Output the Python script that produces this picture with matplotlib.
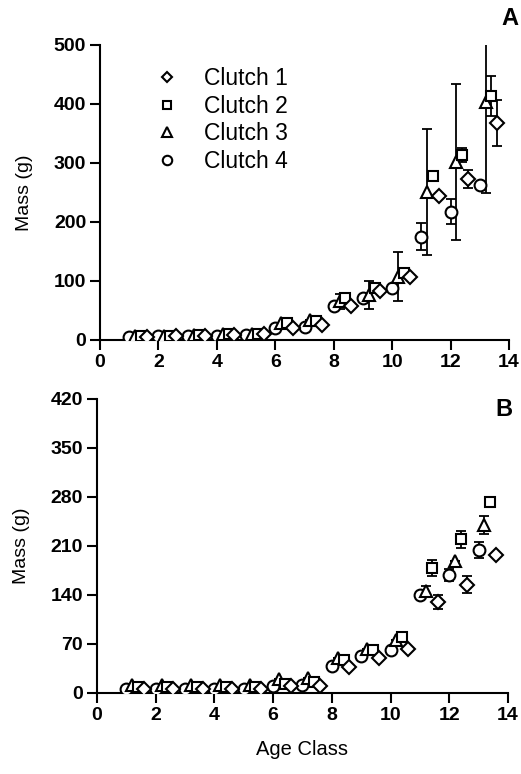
import matplotlib
matplotlib.use('Agg')
import matplotlib.pyplot as plt
import numpy as np

plt.rcParams['font.family'] = ['Liberation Sans', 'DejaVu Sans']

ages = np.arange(1, 14)
clutch_labels = ['Clutch 1', 'Clutch 2', 'Clutch 3', 'Clutch 4']
clutch_offsets = [0.6, 0.4, 0.2, 0.0]
clutch_markers = ['D', 's', '^', 'o']

# panel A: mass by age class (g)
mass_a_c1 = [5, 6, 7, 8, 9, 20, 25, 58, 82, 107, 244, 273, 368]
mass_a_c2 = [6, 7, 8, 9, 10, 28, 32, 71, 88, 113, 277, 314, 414]
mass_a_c3 = [6, 7, 8, 9, 10, 28, 34, 65, 76, 107, 251, 302, 404]
mass_a_c4 = [5, 6, 6, 7, 8, 20, 22, 58, 71, 88, 175, 217, 263]
err_a_c1 = [0, 0, 0, 0, 0, 0, 0, 0, 0, 0, 0, 15, 39]
err_a_c2 = [0, 0, 0, 0, 0, 0, 0, 0, 0, 0, 0, 12, 34]
err_a_c3 = [0, 0, 0, 0, 0, 0, 0, 12, 24, 41, 107, 132, 155]
err_a_c4 = [0, 0, 0, 0, 0, 0, 0, 0, 0, 0, 23, 21, 0]

# panel B
mass_b_c1 = [6, 6, 6, 6, 6, 9, 10, 37, 50, 63, 129, 154, 197]
mass_b_c2 = [8, 8, 8, 8, 8, 12, 16, 47, 61, 80, 178, 219, 272]
mass_b_c3 = [11, 11, 11, 11, 11, 19, 21, 50, 63, 76, 145, 188, 240]
mass_b_c4 = [6, 6, 6, 6, 6, 10, 11, 38, 52, 61, 140, 168, 204]
err_b_c1 = [0, 0, 0, 0, 0, 0, 0, 0, 0, 0, 10, 12, 0]
err_b_c2 = [0, 0, 0, 0, 0, 0, 0, 0, 0, 0, 11, 12, 0]
err_b_c3 = [0, 0, 0, 0, 0, 0, 0, 0, 0, 0, 7, 0, 13]
err_b_c4 = [0, 0, 0, 0, 0, 0, 0, 0, 0, 0, 0, 9, 11]

mass_a = [mass_a_c1, mass_a_c2, mass_a_c3, mass_a_c4]
err_a = [err_a_c1, err_a_c2, err_a_c3, err_a_c4]
mass_b = [mass_b_c1, mass_b_c2, mass_b_c3, mass_b_c4]
err_b = [err_b_c1, err_b_c2, err_b_c3, err_b_c4]


def draw_panel(ax, masses, errs, ymax, ystep, letter, letter_xy, legend=False):
    for i in [3, 2, 1, 0]:
        x = ages + clutch_offsets[i]
        ms = 7 if clutch_markers[i] in ('D', 's') else 8.5
        ax.errorbar(x, masses[i], yerr=errs[i], fmt='none', ecolor='black',
                    elinewidth=1.3, capsize=3.5, capthick=1.3, zorder=2)
        ax.plot(x, masses[i], linestyle='none', marker=clutch_markers[i],
                markersize=ms, markerfacecolor='white', markeredgecolor='black',
                markeredgewidth=1.5, label=clutch_labels[i], zorder=3)
    ax.set_xlim(0, 14)
    ax.set_ylim(0, ymax)
    ax.set_xticks(np.arange(0, 15, 2))
    ax.set_yticks(np.arange(0, ymax + 1, ystep))
    for s in ['top', 'right']:
        ax.spines[s].set_visible(False)
    for s in ['left', 'bottom']:
        ax.spines[s].set_linewidth(1.5)
    ax.tick_params(direction='out', length=7, width=1.5, pad=3)
    for lab in ax.get_xticklabels() + ax.get_yticklabels():
        lab.set_fontsize(14)
        lab.set_fontweight('bold')
    ax.set_ylabel('Mass (g)', fontsize=14, labelpad=15)
    ax.text(letter_xy[0], letter_xy[1], letter, transform=ax.transAxes,
            fontsize=17, fontweight='bold', ha='right', va='center',
            clip_on=False)
    if legend:
        handles, labels = ax.get_legend_handles_labels()
        order = [labels.index(l) for l in clutch_labels]
        ax.legend([handles[k] for k in order], clutch_labels, loc='upper left',
                  bbox_to_anchor=(0.085, 0.995), frameon=False, fontsize=16.5,
                  handlelength=1.0, handletextpad=1.1, labelspacing=0.2,
                  markerscale=0.8)


fig = plt.figure(figsize=(5.21, 7.74), dpi=100)
ax_a = fig.add_axes([0.192, 0.561, 0.785, 0.381])
ax_b = fig.add_axes([0.186, 0.105, 0.789, 0.380])

draw_panel(ax_a, mass_a, err_a, 500, 100, 'A', (1.022, 1.09), legend=True)
draw_panel(ax_b, mass_b, err_b, 420, 70, 'B', (1.01, 0.963))
ax_b.set_xlabel('Age Class', fontsize=14.5, labelpad=12)

fig.savefig('out.png', dpi=100)
